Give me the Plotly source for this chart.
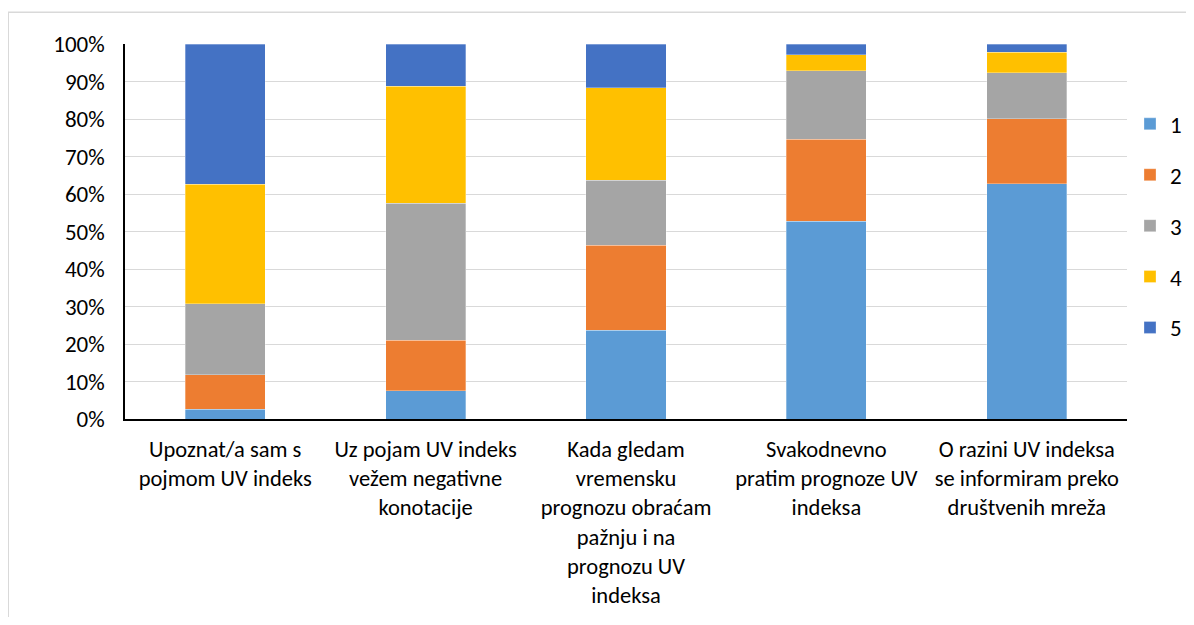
import plotly.graph_objects as go

# kategorije (tvrdnje) i udjeli odgovora po ocjeni, u postocima
categories = [
    "Upoznat/a sam s<br>pojmom UV indeks",
    "Uz pojam UV indeks<br>vežem negativne<br>konotacije",
    "Kada gledam<br>vremensku<br>prognozu obraćam<br>pažnju i na<br>prognozu UV<br>indeksa",
    "Svakodnevno<br>pratim prognoze UV<br>indeksa",
    "O razini UV indeksa<br>se informiram preko<br>društvenih mreža",
]
ocjena_1 = [2.6, 7.6, 23.7, 52.8, 62.8]
ocjena_2 = [9.2, 13.4, 22.6, 21.8, 17.3]
ocjena_3 = [19.0, 36.6, 17.4, 18.3, 12.2]
ocjena_4 = [31.8, 31.1, 24.6, 4.2, 5.5]
ocjena_5 = [37.4, 11.3, 11.7, 2.9, 2.2]
series_names = ["1", "2", "3", "4", "5"]
y_ticks = [0, 10, 20, 30, 40, 50, 60, 70, 80, 90, 100]
y_labels = [f"{v}%" for v in y_ticks]

colors = ["#5B9BD5", "#ED7D31", "#A5A5A5", "#FFC000", "#4472C4"]
font = "Carlito, Calibri, Lato, sans-serif"

fig = go.Figure()
for name, vals, col in zip(series_names, [ocjena_1, ocjena_2, ocjena_3, ocjena_4, ocjena_5], colors):
    fig.add_trace(go.Bar(x=categories, y=vals, name=name, legendgroup=name,
                         marker=dict(color=col, line=dict(color="rgba(255,255,255,0.6)", width=0.5))))

# stranica ima 8px margine oko grafa, pa su mjere pomaknute
fig.update_layout(
    barmode="stack", bargap=0.6,
    width=1178, height=609,
    margin=dict(l=117, r=59, t=36, b=198, autoexpand=False),
    plot_bgcolor="#fff", paper_bgcolor="#fff",
    font=dict(family=font, size=23, color="#000"),
    legend=dict(x=1.003, y=0.515, xanchor="left", yanchor="middle", traceorder="grouped",
                tracegroupgap=18, font=dict(size=23), itemwidth=30),
    shapes=[dict(type="rect", xref="paper", yref="paper", x0=-0.1165, x1=1.2, y0=-0.6, y1=1.085,
                 line=dict(color="#d9d9d9", width=1.5), layer="below")],
)
fig.update_yaxes(range=[0, 100], tickvals=y_ticks, ticktext=y_labels, showgrid=True, gridcolor="#d9d9d9",
                 gridwidth=1.3, showline=True, linecolor="#000", linewidth=1.5, ticks="", zeroline=False,
                 tickfont=dict(size=23), ticklabelstandoff=14)
fig.update_xaxes(showline=True, linecolor="#000", linewidth=1.5, ticks="", tickfont=dict(size=22.5),
                 tickangle=0, ticklabelstandoff=9)

fig.write_html("out.html")
